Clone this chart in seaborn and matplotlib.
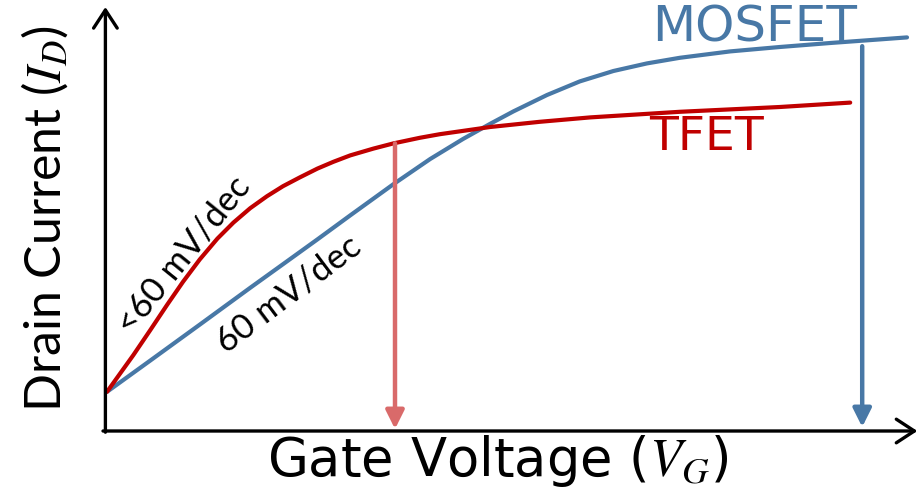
import numpy as np
import pandas as pd
import matplotlib
matplotlib.use('Agg')
import matplotlib.pyplot as plt
import seaborn as sns

# Gate voltage / drain current values (arbitrary units)
vg_tfet = [0, 0.33, 0.54, 0.75, 0.95, 1.16, 1.38, 1.58, 1.79, 2.0, 2.2, 2.41,
           2.63, 2.83, 3.04, 3.33, 3.58, 3.91, 4.16, 4.79, 5.41, 6.04, 7.16, 8.41, 9.29]
id_tfet = [0.98, 1.90, 2.52, 3.15, 3.73, 4.29, 4.81, 5.21, 5.57, 5.87, 6.12, 6.34,
           6.56, 6.73, 6.89, 7.06, 7.19, 7.33, 7.42, 7.60, 7.73, 7.84, 7.98, 8.10, 8.21]

vg_mosfet = [0, 0.54, 1.16, 1.79, 2.2, 2.63, 3.04, 3.58, 4.04, 4.45, 4.79, 5.08,
             5.5, 5.91, 6.33, 6.75, 7.16, 7.79, 8.41, 9.04, 9.66, 10.0]
id_mosfet = [0.98, 1.76, 2.66, 3.58, 4.17, 4.79, 5.39, 6.17, 6.80, 7.30, 7.68, 7.99,
             8.40, 8.74, 9.00, 9.19, 9.33, 9.49, 9.60, 9.70, 9.79, 9.84]

# operating points marked by the vertical arrows
vdd_tfet, ion_tfet = 3.6, 7.19
vdd_mosfet, ion_mosfet = 9.44, 9.62

red = '#c00000'
red_light = '#d96a6a'
blue = '#4878a6'

sns.set_style('white')
plt.rcParams['mathtext.fontset'] = 'stix'
plt.rcParams['text.color'] = 'black'

fig = plt.figure(figsize=(9.19, 4.89), dpi=100)
ax = fig.add_axes([0, 0, 1, 1])

df_t = pd.DataFrame({'vg': vg_tfet, 'id': id_tfet})
df_m = pd.DataFrame({'vg': vg_mosfet, 'id': id_mosfet})
sns.lineplot(data=df_m, x='vg', y='id', color=blue, lw=3.0, sort=False,
             estimator=None, ax=ax, solid_joinstyle='round')
sns.lineplot(data=df_t, x='vg', y='id', color=red, lw=3.0, sort=False,
             estimator=None, ax=ax, solid_joinstyle='round')

ax.set_xlim(-1.3375, 10.15)
ax.set_ylim(-1.425, 10.8)
ax.axis('off')

# axes drawn as arrows
axis_kw = dict(arrowstyle='->,head_length=1.3,head_width=0.85', lw=2.4,
               color='black', shrinkA=0, shrinkB=0)
ax.annotate('', xy=(-0.02, 10.6), xytext=(-0.02, -0.03), arrowprops=axis_kw)
ax.annotate('', xy=(10.13, 0), xytext=(-0.05, 0), arrowprops=axis_kw)

# on-current arrows
ax.annotate('', xy=(vdd_tfet, 0.05), xytext=(vdd_tfet, ion_tfet),
            arrowprops=dict(arrowstyle='-|>,head_length=1.1,head_width=0.55',
                            lw=3.2, color=red_light, shrinkA=0, shrinkB=0))
ax.annotate('', xy=(vdd_mosfet, 0.1), xytext=(vdd_mosfet, ion_mosfet),
            arrowprops=dict(arrowstyle='-|>,head_length=1.1,head_width=0.55',
                            lw=3.2, color=blue, shrinkA=0, shrinkB=0))

ax.text(8.1, 10.12, 'MOSFET', color=blue, fontsize=36, family='DejaVu Sans',
        ha='center', va='center')
ax.text(7.5, 7.37, 'TFET', color=red, fontsize=34, family='DejaVu Sans',
        ha='center', va='center')
ax.text(0.96, 4.42, '<60 mV/dec', fontsize=25, family='Lato', rotation=51,
        ha='center', va='center', rotation_mode='anchor')
ax.text(2.27, 3.45, '60 mV/dec', fontsize=25, family='Lato', rotation=37,
        ha='center', va='center', rotation_mode='anchor')

ax.text(-0.78, 5.35, r'Drain Current ($I_D$)', fontsize=36, family='Lato',
        rotation=90, ha='center', va='center')
ax.text(4.88, -1.1, r'Gate Voltage ($V_G$)', fontsize=38, family='DejaVu Sans',
        ha='center', va='baseline')

fig.savefig('out.png', dpi=100)
